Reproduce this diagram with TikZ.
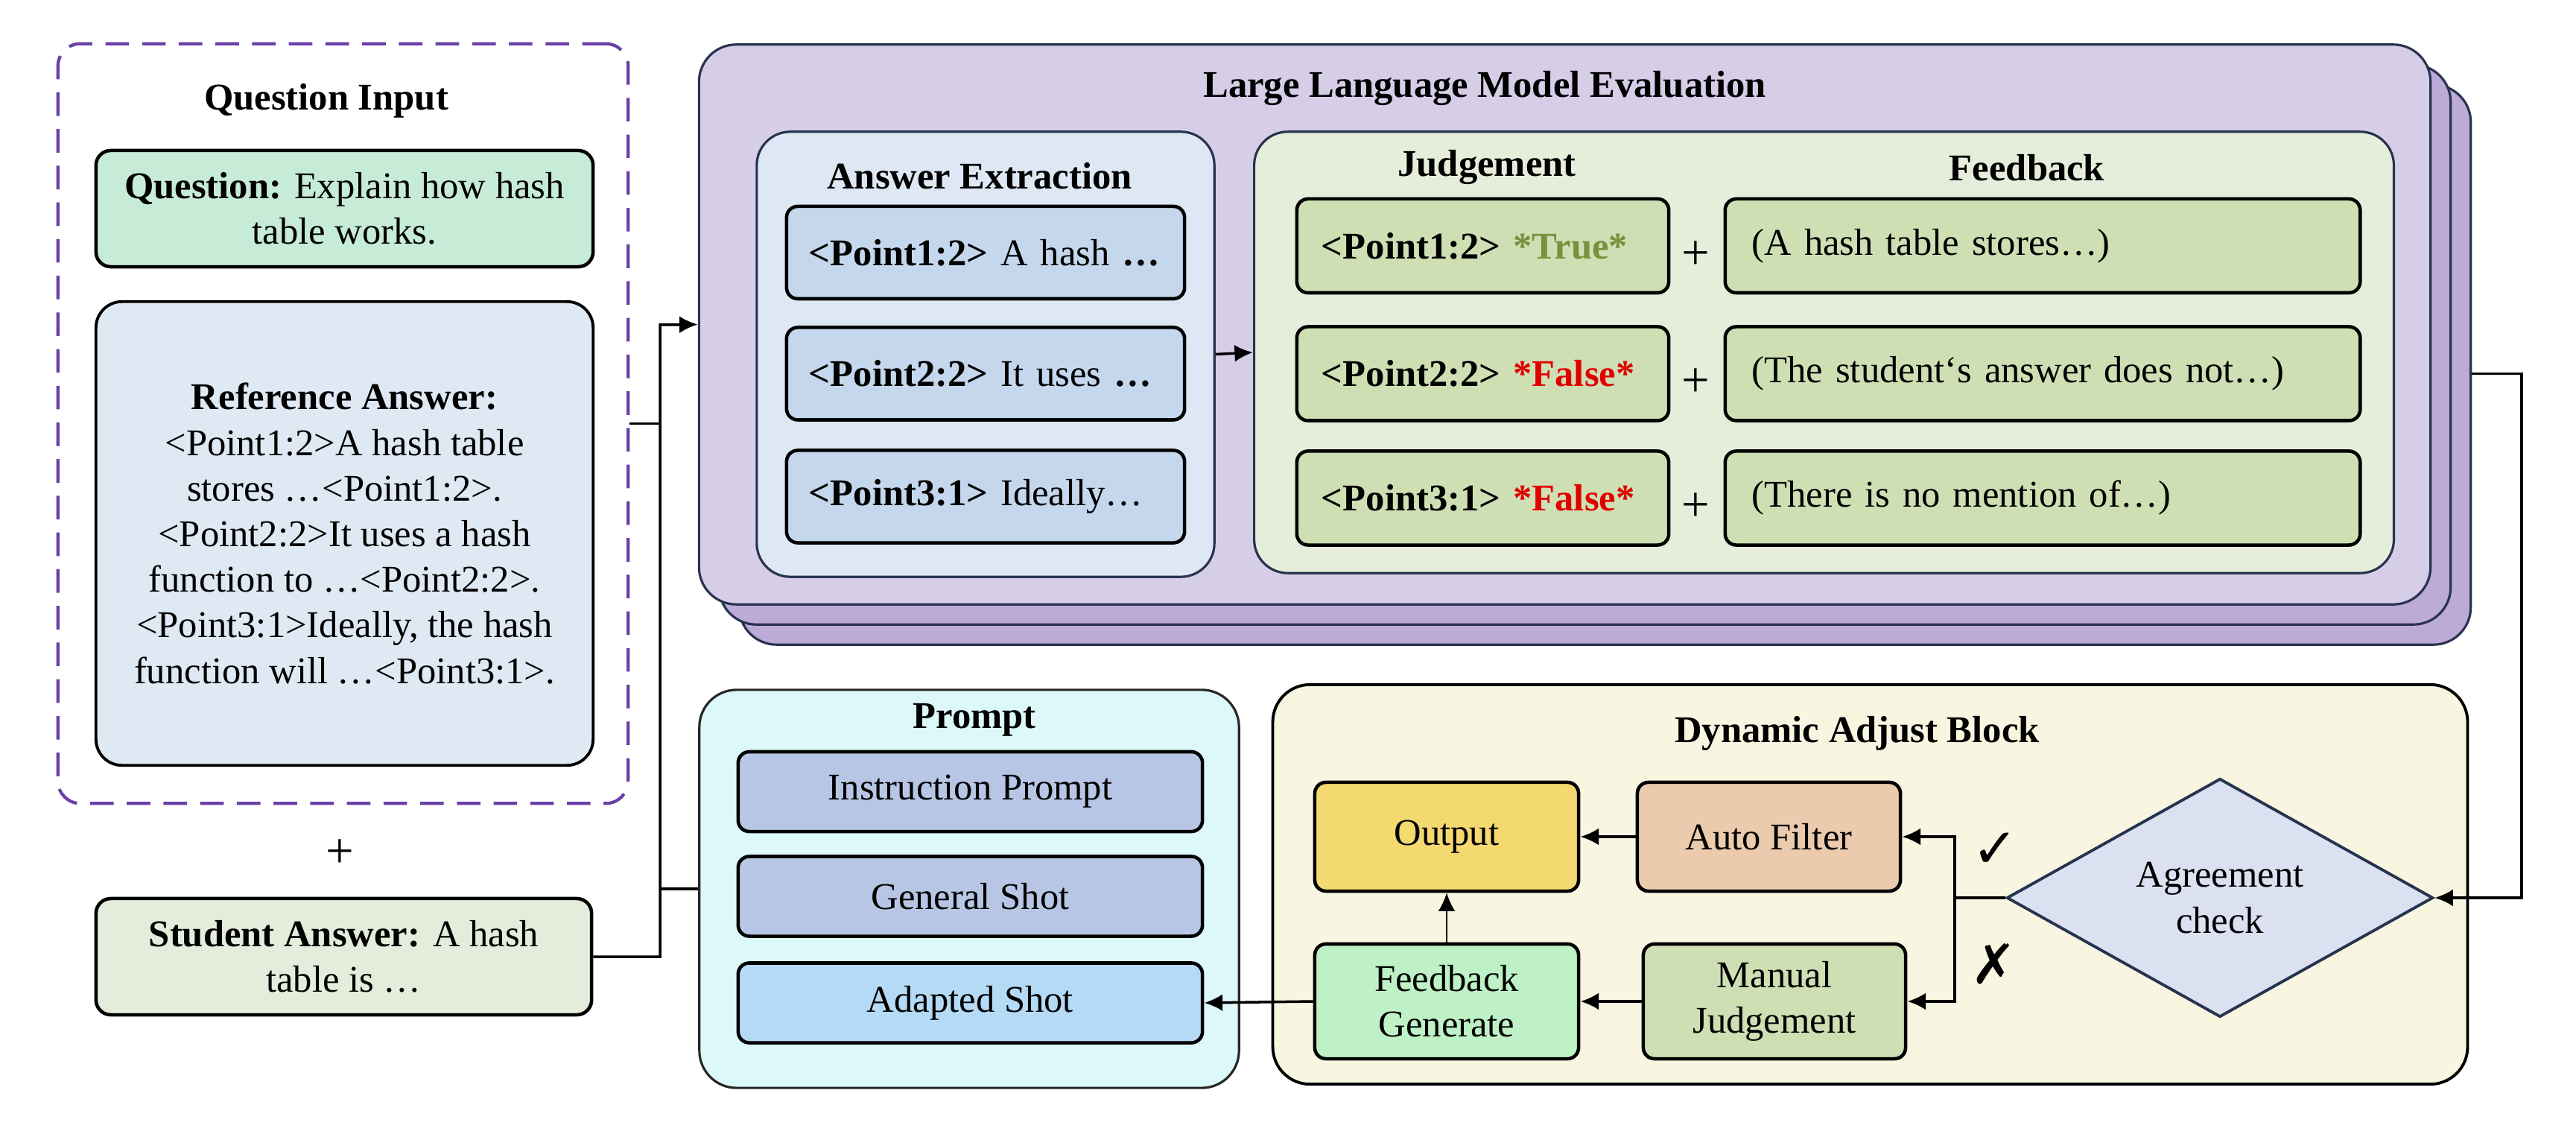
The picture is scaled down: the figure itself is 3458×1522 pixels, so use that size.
\documentclass[tikz,border=0pt]{standalone}
\usepackage{fontspec}
\setmainfont{Liberation Serif}
\newfontfamily\symfont{DejaVu Sans}
\usetikzlibrary{arrows.meta,shapes.geometric}
\newcommand{\boxfont}{\fontsize{14.4pt}{17.4pt}\selectfont}
\newcommand{\plusfont}{\fontsize{19pt}{20pt}\selectfont}
\newcommand{\markfont}{\symfont\fontsize{21pt}{24pt}\selectfont}
\definecolor{qpurple}{HTML}{6A40A8}
\definecolor{navy}{HTML}{28334F}
\definecolor{llmfront}{HTML}{D6CDE7}
\definecolor{llmback}{HTML}{BCAAD7}
\definecolor{extblue}{HTML}{DEE8F4}
\definecolor{ptblue}{HTML}{C4D7EC}
\definecolor{jdgfill}{HTML}{E6EEDB}
\definecolor{jgreen}{HTML}{CFDFB4}
\definecolor{truegreen}{HTML}{76923C}
\definecolor{falsered}{HTML}{E00000}
\definecolor{qgreen}{HTML}{C6ECD8}
\definecolor{refblue}{HTML}{DFE9F4}
\definecolor{stugreen}{HTML}{E4EDDB}
\definecolor{prmfill}{HTML}{DCF8F9}
\definecolor{instrblue}{HTML}{B8C6E5}
\definecolor{adpblue}{HTML}{B4DAF5}
\definecolor{dabfill}{HTML}{F8F6E0}
\definecolor{outyel}{HTML}{F4D870}
\definecolor{autopeach}{HTML}{EBCAAE}
\definecolor{fbgreen}{HTML}{BEF2C6}
\definecolor{chkblue}{HTML}{DCE1F2}

\begin{document}
\begin{tikzpicture}[x=0.01cm,y=-0.01cm,
  cont/.style={draw=navy,line width=0.9pt,rounded corners=0.45cm,inner sep=0pt},
  ibox/.style={draw=black,line width=1.3pt,rounded corners=0.15cm,inner sep=0pt,font=\boxfont,align=center},
  lbox/.style={ibox,align=left},
  ttl/.style={font=\boxfont\bfseries},
  arr/.style={line width=1pt,-{Latex[length=7pt,width=6.5pt]}}]
\useasboundingbox (0,0) rectangle (3458,1522);
%question input part
\node[draw=qpurple,dash pattern=on 9pt off 5pt,line width=1.2pt,rounded corners=0.3cm,minimum width=7.65cm,minimum height=10.19cm] (qin) at (460.5,568.5) {};
\node[ttl] (qint) at (438,135) {Question Input};
\node[ibox,fill=qgreen,rounded corners=0.2cm,minimum width=6.67cm,minimum height=1.56cm] (qst) at (462.5,280) {\textbf{Question:} Explain how hash\\table works.};
\node[ibox,fill=refblue,line width=1.1pt,rounded corners=0.35cm,minimum width=6.67cm,minimum height=6.22cm] (ref) at (462.5,716) {\textbf{Reference Answer:}\\<Point1:2>A hash table\\stores …<Point1:2>.\\<Point2:2>It uses a hash\\function to …<Point2:2>.\\<Point3:1>Ideally, the hash\\function will …<Point3:1>.};
\node[font=\plusfont] (plus0) at (456,1146) {+};
\node[ibox,fill=stugreen,rounded corners=0.2cm,minimum width=6.65cm,minimum height=1.56cm] (stu) at (461.5,1284) {\textbf{Student Answer:} A hash\\table is …};
%stacked llm layers
\foreach \k/\d in {3/54,2/27}
  \node[cont,fill=llmback,rounded corners=0.5cm,minimum width=23.23cm,minimum height=7.51cm] (llm\k) at (2100.5+\d,435.5+\d) {};
\node[cont,fill=llmfront,rounded corners=0.5cm,minimum width=23.23cm,minimum height=7.51cm] (llm) at (2100.5,435.5) {};
\node[ttl] (llmt) at (1993,119) {Large Language Model Evaluation};
%answer extraction
\node[cont,fill=extblue,minimum width=6.14cm,minimum height=5.97cm] (ext) at (1323,475.5) {};
\node[ttl] (extt) at (1315,236) {Answer Extraction};
\node[lbox,fill=ptblue,inner xsep=0.3cm,text width=4.74cm,minimum height=1.24cm] (e1) at (1323,339) {\textbf{<Point1:2>} A hash \textbf{…}};
\node[lbox,fill=ptblue,inner xsep=0.3cm,text width=4.74cm,minimum height=1.24cm] (e2) at (1323,501.5) {\textbf{<Point2:2>} It uses \textbf{…}};
\node[lbox,fill=ptblue,inner xsep=0.3cm,text width=4.74cm,minimum height=1.24cm] (e3) at (1323,666.5) {\textbf{<Point3:1>} Ideally…};
%judgement and feedback
\node[cont,fill=jdgfill,minimum width=15.29cm,minimum height=5.92cm] (jdg) at (2448.5,473) {};
\node[ttl] (jdgt) at (1996,225) {Judgement};
\node[ttl] (fbt) at (2721,225) {Feedback};
\node[lbox,fill=jgreen,inner xsep=0.33cm,text width=4.33cm,minimum height=1.26cm] (j1) at (1990.5,330) {\textbf{<Point1:2> \color{truegreen}*True*}};
\node[lbox,fill=jgreen,inner xsep=0.33cm,text width=4.33cm,minimum height=1.26cm] (j2) at (1990.5,501.5) {\textbf{<Point2:2> \color{falsered}*False*}};
\node[lbox,fill=jgreen,inner xsep=0.33cm,text width=4.33cm,minimum height=1.26cm] (j3) at (1990.5,668.5) {\textbf{<Point3:1> \color{falsered}*False*}};
\node[lbox,fill=jgreen,inner xsep=0.36cm,text width=7.8cm,minimum height=1.26cm] (f1) at (2742,330) {(A hash table stores…)};
\node[lbox,fill=jgreen,inner xsep=0.36cm,text width=7.8cm,minimum height=1.26cm] (f2) at (2742,501.5) {(The student‘s answer does not…)};
\node[lbox,fill=jgreen,inner xsep=0.36cm,text width=7.8cm,minimum height=1.26cm] (f3) at (2742,668.5) {(There is no mention of…)};
\foreach \i/\y in {1/343,2/514,3/681}
  \node[font=\plusfont] (jp\i) at (2276,\y) {+};
%prompt
\node[cont,draw=black!85,fill=prmfill,rounded corners=0.5cm,minimum width=7.24cm,minimum height=5.34cm] (prm) at (1301,1193) {};
\node[ttl] (prmt) at (1308,966) {Prompt};
\node[ibox,fill=instrblue,minimum width=6.23cm,minimum height=1.07cm] (ins) at (1302.5,1062.5) {Instruction Prompt};
\node[ibox,fill=instrblue,minimum width=6.23cm,minimum height=1.07cm] (gen) at (1302.5,1203) {General Shot};
\node[ibox,fill=adpblue,minimum width=6.23cm,minimum height=1.07cm] (adp) at (1302.5,1346) {Adapted Shot};
%dynamic adjust block
\node[cont,draw=black,line width=1.1pt,fill=dabfill,rounded corners=0.5cm,minimum width=16.03cm,minimum height=5.36cm] (dab) at (2510.5,1187) {};
\node[ttl] (dabt) at (2493,984) {Dynamic Adjust Block};
\node[ibox,fill=outyel,minimum width=3.54cm,minimum height=1.46cm] (out) at (1942,1123) {Output};
\node[ibox,fill=autopeach,minimum width=3.53cm,minimum height=1.46cm] (auto) at (2374.5,1123) {Auto Filter};
\node[ibox,fill=fbgreen,minimum width=3.54cm,minimum height=1.54cm] (fbg) at (1942,1344) {Feedback\\Generate};
\node[ibox,fill=jgreen,minimum width=3.52cm,minimum height=1.54cm] (man) at (2382,1344) {Manual\\Judgement};
\node[diamond,draw=navy,line width=1.1pt,fill=chkblue,inner sep=0pt,minimum width=5.72cm,minimum height=2.57cm,font=\boxfont,align=center] (chk) at (2980,1205) {Agreement\\check};
\node[font=\markfont] (yes) at (2678,1141) {✓};
\node[font=\markfont] (no) at (2676,1294) {✗};
%connectors
\coordinate (lbus) at (886,436);
\coordinate (rbus) at (3385,800);
\coordinate (fork) at (2624,1205);
\draw[line width=1pt] (qin.east) -- (qin.east -| lbus);
\draw[arr] (stu.east) -| (lbus) -- (llm.west);
\draw[line width=1pt] (prm.west -| lbus) -- (prm.west);
\draw[arr] (ext.east) -- (jdg.west);
\draw[arr] (llm3.east |- e2) -| (rbus) |- (chk.east);
\draw[line width=1pt] (chk.west) -- (fork);
\draw[arr] (fork) |- (auto.east);
\draw[arr] (fork) |- (man.east);
\draw[arr] (auto.west) -- (out.east);
\draw[arr] (man.west) -- (fbg.east);
\draw[arr,line width=0.6pt] (fbg.north) -- (out.south);
\draw[arr] (fbg.west) -- (adp.east);
\end{tikzpicture}
\end{document}
